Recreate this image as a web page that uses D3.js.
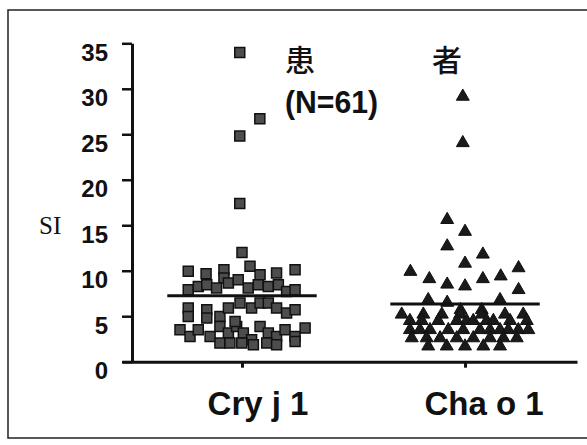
<!DOCTYPE html>
<html lang="ja">
<head>
<meta charset="utf-8">
<title>SI Cry j 1 / Cha o 1</title>
<script src="https://cdn.jsdelivr.net/npm/d3@7"></script>
<style>
  body { margin: 0; background: #fff; }
  svg { display: block; }
</style>
</head>
<body>
<script>

// categories and tick labels
var categories = ["Cry j 1", "Cha o 1"];
var yTicks = [0, 5, 10, 15, 20, 25, 30, 35];

// Cry j 1 (squares): SI values and horizontal jitter (category units)
var cryValues = [34.0, 26.7, 24.8, 17.4, 12.0,
  9.93, 9.67, 10.11, 9.19, 10.48, 9.56, 9.74, 10.11,
  7.91, 8.28, 8.46, 8.10, 8.64, 9.01, 8.10, 8.46, 8.28, 8.46, 7.73, 7.91,
  5.90, 4.98, 5.71, 4.80, 4.98, 5.90, 6.45, 5.90, 6.45, 6.45, 5.90, 5.35, 5.71,
  3.52, 2.78, 3.52, 2.78, 3.88, 3.15, 3.88, 3.15, 2.42, 3.88, 3.15, 2.78, 3.52, 2.78, 3.70,
  2.05, 2.05, 2.05, 1.87, 2.05, 1.87, 2.23, 4.43];
var cryJitter = [-0.01, 0.08, -0.01, -0.01, 0.0,
  -0.241, -0.161, -0.081, -0.081, 0.036, 0.081, 0.155, 0.238,
  -0.241, -0.196, -0.158, -0.114, -0.061, -0.017, 0.028, 0.073, 0.118, 0.163, 0.200, 0.238,
  -0.241, -0.241, -0.158, -0.158, -0.099, -0.061, -0.009, 0.043, 0.081, 0.118, 0.155, 0.200, 0.238,
  -0.278, -0.233, -0.196, -0.143, -0.099, -0.061, -0.024, 0.006, 0.043, 0.081, 0.118, 0.155, 0.193, 0.238, 0.283,
  -0.099, -0.054, -0.001, 0.051, 0.111, 0.155, 0.238, -0.031];

// Cha o 1 (triangles)
var chaValues = [29.15, 24.05, 15.6, 14.3, 12.7, 11.8,
  10.8, 9.9, 9.1, 8.5, 8.3, 9.1, 9.4, 10.3, 7.9,
  6.8, 6.5, 6.8, 5.7, 5.7,
  5.2, 5.2, 5.2, 5.2, 5.2, 5.2, 5.2,
  4.5, 4.5, 4.5, 4.5, 4.5, 4.5, 4.5, 4.5, 4.5, 4.5,
  3.5, 3.5, 3.5, 3.5, 3.5, 3.5, 3.5, 3.5, 3.5, 3.5, 3.5,
  2.6, 2.6, 2.6, 2.6, 2.6, 2.6, 2.6, 2.6,
  1.7, 1.7, 1.7, 1.7, 1.7];
var chaJitter = [-0.01, -0.01, -0.08, 0.0, -0.08, 0.08,
  0.0, -0.245, -0.16, -0.08, 0.0, 0.08, 0.16, 0.24, 0.24,
  -0.165, -0.08, 0.157, -0.02, 0.075,
  -0.284, -0.187, -0.104, -0.022, 0.075, 0.179, 0.261,
  -0.247, -0.194, -0.12, -0.037, 0.007, 0.037, 0.097, 0.127, 0.202, 0.277,
  -0.247, -0.202, -0.157, -0.075, -0.008, 0.067, 0.112, 0.157, 0.194, 0.239, 0.284,
  -0.239, -0.172, -0.112, -0.037, 0.037, 0.112, 0.172, 0.232,
  -0.165, -0.082, 0.0, 0.082, 0.157];

// group means (horizontal lines)
var means = [7.25, 6.35];

var width = 587, height = 445;

var svg = d3.select("body").append("svg")
  .attr("width", width)
  .attr("height", height);

// frame (open on the right side)
svg.append("path")
  .attr("d", "M587,10 L8,10 L8,438 L587,438")
  .attr("fill", "none")
  .attr("stroke", "#222")
  .attr("stroke-width", 1.5);

var x = d3.scaleLinear().domain([0.462, 2.502]).range([122, 577]);
var y = d3.scaleLinear().domain([0, 35]).range([361.7, 43.3]);

// y axis
var yAxis = d3.axisLeft(y)
  .tickValues(yTicks)
  .tickSize(10)
  .tickSizeOuter(0)
  .tickFormat(d3.format("d"));

var gy = svg.append("g")
  .attr("transform", "translate(132,0)")
  .call(yAxis);
gy.select(".domain").attr("stroke", "#111").attr("stroke-width", 3);
gy.selectAll(".tick line").attr("stroke", "#111").attr("stroke-width", 2.5);
gy.selectAll(".tick text")
  .attr("x", -24)
  .attr("dy", "17")
  .attr("fill", "#111")
  .style("font-family", "'Liberation Sans', Arial, sans-serif")
  .style("font-weight", "bold")
  .style("font-size", "24px");

// x axis
var xAxis = d3.axisBottom(x)
  .tickValues([1, 2])
  .tickSize(6)
  .tickSizeOuter(0)
  .tickFormat("");

var gx = svg.append("g")
  .attr("transform", "translate(0,361.7)")
  .call(xAxis);
gx.select(".domain").attr("stroke", "#111").attr("stroke-width", 3);
gx.selectAll(".tick line").attr("stroke", "#111").attr("stroke-width", 3);

// category labels
svg.selectAll(".cat")
  .data(categories)
  .enter()
  .append("text")
  .attr("class", "cat")
  .attr("x", function(d, i) { return x(i + 1) + (i === 0 ? 16 : 19); })
  .attr("y", 415)
  .attr("text-anchor", "middle")
  .attr("fill", "#111")
  .style("font-family", "'Liberation Sans', Arial, sans-serif")
  .style("font-weight", "bold")
  .style("font-size", "33px")
  .text(function(d) { return d; });

// SI label
svg.append("text")
  .attr("x", 39)
  .attr("y", 234)
  .attr("fill", "#111")
  .style("font-family", "'Liberation Serif', 'Times New Roman', serif")
  .style("font-size", "25px")
  .text("SI");

// title
svg.append("text")
  .attr("x", 300).attr("y", 71)
  .attr("text-anchor", "middle")
  .attr("fill", "#111")
  .style("font-family", "'Noto Sans CJK JP', sans-serif")
  .style("font-weight", "500")
  .style("font-size", "30px")
  .text("患");
svg.append("text")
  .attr("x", 447).attr("y", 71)
  .attr("text-anchor", "middle")
  .attr("fill", "#111")
  .style("font-family", "'Noto Sans CJK JP', sans-serif")
  .style("font-weight", "500")
  .style("font-size", "30px")
  .text("者");
svg.append("text")
  .attr("x", 285).attr("y", 113)
  .attr("textLength", 93)
  .attr("lengthAdjust", "spacingAndGlyphs")
  .attr("fill", "#111")
  .style("font-family", "'Liberation Sans', Arial, sans-serif")
  .style("font-weight", "bold")
  .style("font-size", "32px")
  .text("(N=61)");

// points
var cryData = cryValues.map(function(v, i) { return [1 + cryJitter[i], v]; });
var chaData = chaValues.map(function(v, i) { return [2 + chaJitter[i], v]; });

var square = d3.symbol().type(d3.symbolSquare).size(100);
var triangle = d3.symbol().type(d3.symbolTriangle).size(72);

svg.append("g").selectAll("path")
  .data(cryData)
  .enter()
  .append("path")
  .attr("d", square)
  .attr("transform", function(d) { return "translate(" + x(d[0]) + "," + y(d[1]) + ")"; })
  .attr("fill", "#4d4d4d")
  .attr("stroke", "#111")
  .attr("stroke-width", 1.5);

svg.append("g").selectAll("path")
  .data(chaData)
  .enter()
  .append("path")
  .attr("d", triangle)
  .attr("transform", function(d) { return "translate(" + x(d[0]) + "," + y(d[1]) + ")"; })
  .attr("fill", "#1a1a1a")
  .attr("stroke", "#111")
  .attr("stroke-width", 1);

// mean lines
svg.selectAll(".mean")
  .data(means)
  .enter()
  .append("line")
  .attr("class", "mean")
  .attr("x1", function(d, i) { return x(i + 1 - 0.335); })
  .attr("x2", function(d, i) { return x(i + 1 + 0.335); })
  .attr("y1", function(d) { return y(d); })
  .attr("y2", function(d) { return y(d); })
  .attr("stroke", "#111")
  .attr("stroke-width", 3);

</script>
</body>
</html>
